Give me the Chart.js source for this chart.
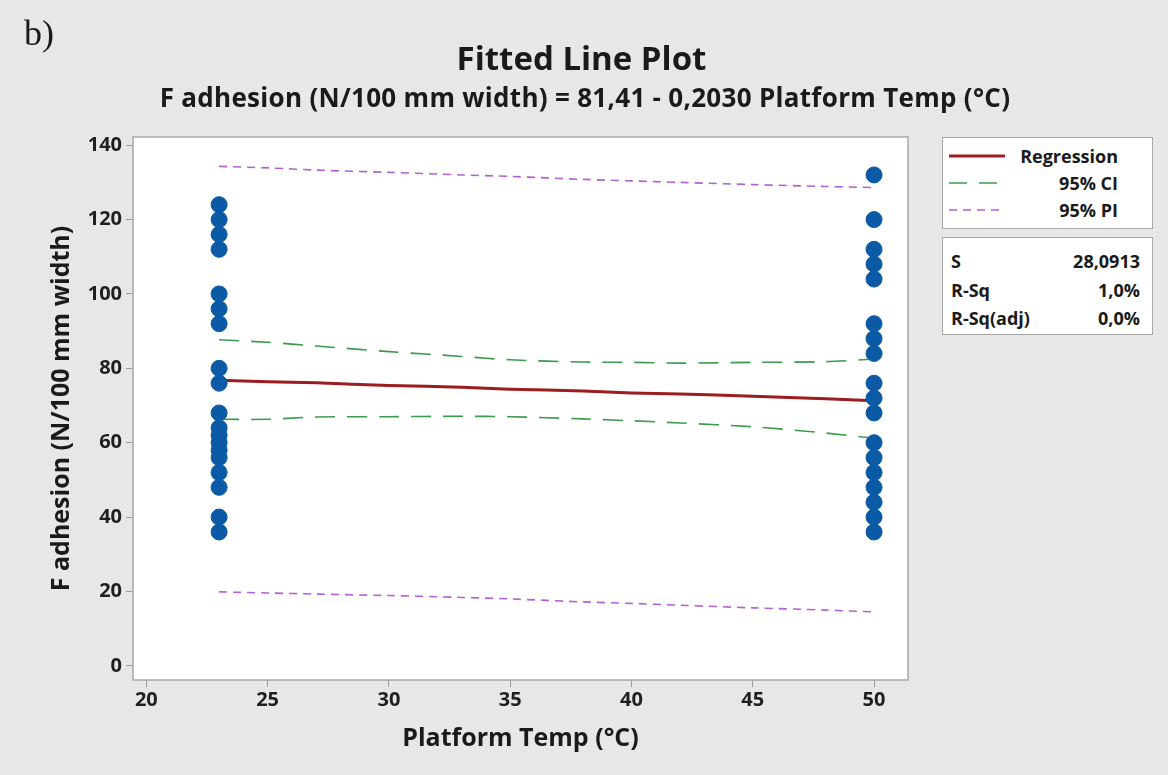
<!DOCTYPE html>
<html>
<head>
<meta charset="utf-8">
<title>Fitted Line Plot</title>
<script src="https://cdn.jsdelivr.net/npm/chart.js@4.4.1/dist/chart.umd.min.js"></script>
<style>
  html, body { margin: 0; padding: 0; }
  body { width: 1168px; height: 775px; background: #e7e7e7; position: relative; overflow: hidden;
         font-family: "Open Sans", "Liberation Sans", sans-serif; color: #1a1a1a; }
  #wrap { position: absolute; left: 0; top: 0; width: 1168px; height: 775px; }
  .panel { position: absolute; left: 24px; top: 12px; font-family: "Liberation Serif", "DejaVu Serif", serif; font-size: 36px; }
  .title { position: absolute; left: 0; width: 1168px; text-align: center; font-weight: 700; white-space: nowrap; }
  #t1 { top: 35px; font-size: 33px; width: 1163px; }
  #t2 { top: 79px; font-size: 26px; width: 1170px; letter-spacing: 0.3px; }
  .box { position: absolute; left: 942px; width: 211px; background: #fff; border: 1.5px solid #a9a9a9;
         font-weight: 700; font-size: 18px; box-sizing: border-box; }
  #legend { top: 137px; height: 92px; }
  #stats { top: 237px; height: 98px; }
  .row { position: absolute; left: 0; right: 0; height: 24px; line-height: 24px; }
  .row svg { position: absolute; left: 6px; top: 7px; }
  .row .lbl { position: absolute; right: 34px; }
  #stats .row .k { position: absolute; left: 8px; }
  #stats .row .v { position: absolute; right: 12px; }
</style>
</head>
<body>
<div id="wrap"><canvas id="chart" width="1168" height="775"></canvas></div>
<div class="panel">b)</div>
<div class="title" id="t1">Fitted Line Plot</div>
<div class="title" id="t2">F adhesion (N/100 mm width) = 81,41 - 0,2030 Platform Temp (°C)</div>

<div class="box" id="legend">
  <div class="row" style="top:6px"><svg width="56" height="10"><line x1="0" y1="5" x2="56" y2="5" stroke="#9b1d20" stroke-width="3"/></svg><span class="lbl">Regression</span></div>
  <div class="row" style="top:33px"><svg width="56" height="10"><line x1="0" y1="5" x2="56" y2="5" stroke="#3b9a4e" stroke-width="1.6" stroke-dasharray="18 12"/></svg><span class="lbl">95% CI</span></div>
  <div class="row" style="top:60px"><svg width="56" height="10"><line x1="0" y1="5" x2="56" y2="5" stroke="#b35fd6" stroke-width="1.6" stroke-dasharray="8 6"/></svg><span class="lbl">95% PI</span></div>
</div>

<div class="box" id="stats">
  <div class="row" style="top:11px"><span class="k">S</span><span class="v">28,0913</span></div>
  <div class="row" style="top:40px"><span class="k">R-Sq</span><span class="v">1,0%</span></div>
  <div class="row" style="top:68px"><span class="k">R-Sq(adj)</span><span class="v">0,0%</span></div>
</div>

<script>
// ── observed data (two platform temperatures) ──
const tempLow = 23;
const tempHigh = 50;
const adhesionAt23 = [124, 120, 116, 112, 100, 96, 92, 80, 76, 68, 64, 62, 60, 58, 56, 52, 48, 40, 36];
const adhesionAt50 = [132, 120, 112, 108, 104, 92, 88, 84, 76, 72, 68, 60, 56, 52, 48, 44, 40, 36];

// ── fitted line and bands ──
const fitTemp    = [23, 25, 27, 30, 33, 35, 38, 40, 42, 45, 48, 50];
const regression = [76.8, 76.4, 76.1, 75.4, 74.9, 74.4, 73.9, 73.4, 73.1, 72.5, 71.8, 71.3];
const ciUpper    = [87.7, 87.0, 86.0, 84.5, 83.2, 82.3, 81.7, 81.6, 81.4, 81.6, 81.8, 82.5];
const ciLower    = [66.3, 66.3, 66.9, 67.0, 67.1, 67.0, 66.4, 65.9, 65.3, 64.3, 62.6, 61.2];
const piUpper    = [134.3, 133.9, 133.3, 132.7, 132.0, 131.6, 130.8, 130.4, 130.0, 129.4, 128.9, 128.6];
const piLower    = [19.9, 19.6, 19.3, 18.9, 18.4, 18.0, 17.2, 16.8, 16.3, 15.6, 15.0, 14.5];

// ── axis ticks ──
const xTicks = [20, 25, 30, 35, 40, 45, 50];
const yTicks = [0, 20, 40, 60, 80, 100, 120, 140];

const pts = (xs, ys) => ys.map((y, i) => ({ x: xs[i], y }));
const col = (x, ys) => ys.map(y => ({ x, y }));

const lineDs = (label, ys, color, width, dash) => ({
  type: 'line', label, data: pts(fitTemp, ys),
  borderColor: color, borderWidth: width, borderDash: dash,
  pointRadius: 0, fill: false, tension: 0.3, order: 1
});

// white plot area + grey frame
const frame = {
  id: 'frame',
  beforeDatasetsDraw(chart) {
    const { ctx, chartArea: a } = chart;
    ctx.save();
    ctx.fillStyle = '#fff';
    ctx.fillRect(a.left, a.top, a.right - a.left, a.bottom - a.top);
    ctx.restore();
  },
  afterDraw(chart) {
    const { ctx, chartArea: a } = chart;
    ctx.save();
    ctx.strokeStyle = '#a9a9a9';
    ctx.lineWidth = 1.5;
    ctx.strokeRect(a.left, a.top, a.right - a.left, a.bottom - a.top);
    ctx.restore();
  }
};

const tickFont = { family: '"Open Sans", "Liberation Sans", sans-serif', size: 20, weight: '700' };
const titleFont = { family: '"Open Sans", "Liberation Sans", sans-serif', size: 25, weight: '700' };

new Chart(document.getElementById('chart'), {
  type: 'scatter',
  data: {
    datasets: [
      lineDs('95% PI', piUpper, '#b35fd6', 1.6, [8, 6]),
      lineDs('95% PI low', piLower, '#b35fd6', 1.6, [8, 6]),
      lineDs('95% CI', ciUpper, '#3b9a4e', 1.6, [20, 12]),
      lineDs('95% CI low', ciLower, '#3b9a4e', 1.6, [20, 12]),
      lineDs('Regression', regression, '#9b1d20', 3, []),
      {
        label: 'Observed',
        data: col(tempLow, adhesionAt23).concat(col(tempHigh, adhesionAt50)),
        backgroundColor: '#0b5aa6', borderColor: '#0b5aa6',
        pointRadius: 8, pointHoverRadius: 8, order: 0
      }
    ]
  },
  options: {
    responsive: false,
    animation: false,
    layout: { padding: { left: 0, right: 260, top: 137, bottom: 0 } },
    plugins: { legend: { display: false }, tooltip: { enabled: false } },
    scales: {
      x: {
        type: 'linear', min: 19.45, max: 51.4,
        afterBuildTicks: s => { s.ticks = xTicks.map(v => ({ value: v })); },
        afterFit: s => { s.height = 95; },
        grid: { drawOnChartArea: false, drawTicks: true, tickLength: 7, color: '#9a9a9a' },
        border: { display: false },
        ticks: { font: tickFont, color: '#1f1f1f', padding: 1, maxRotation: 0 },
        title: { display: true, text: 'Platform Temp (°C)', font: titleFont, color: '#1a1a1a', padding: { top: 0, bottom: 21 } }
      },
      y: {
        type: 'linear', min: -3.8, max: 142.2,
        afterBuildTicks: s => { s.ticks = yTicks.map(v => ({ value: v })); },
        afterFit: s => { s.width = 133; },
        grid: { drawOnChartArea: false, drawTicks: true, tickLength: 7, color: '#9a9a9a' },
        border: { display: false },
        ticks: { font: tickFont, color: '#1f1f1f', padding: 4 },
        title: { display: true, text: 'F adhesion (N/100 mm width)', font: titleFont, color: '#1a1a1a', padding: { top: 47, bottom: 0 } }
      }
    }
  },
  plugins: [frame]
});
</script>
</body>
</html>
